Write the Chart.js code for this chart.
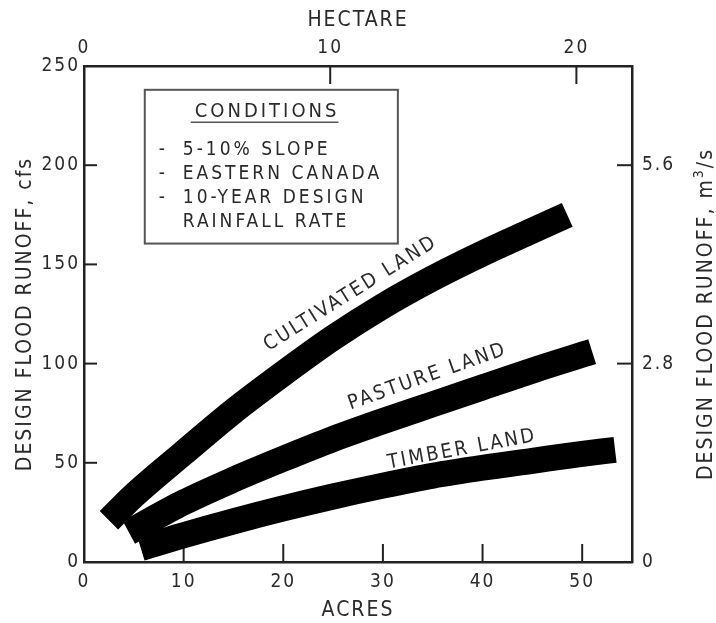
<!DOCTYPE html>
<html><head><meta charset="utf-8">
<script src="https://cdn.jsdelivr.net/npm/chart.js@4/dist/chart.umd.min.js"></script>
<style>html,body{margin:0;padding:0;background:#fff;}#wrap{width:716px;height:623px;}</style>
</head><body><div id="wrap"><canvas id="c" width="716" height="623"></canvas></div>
<script>
// ---- data ----
const acresTicks = [0, 10, 20, 30, 40, 50];
const hectareTicks = [0, 10, 20];
const cfsTicks = [0, 50, 100, 150, 200, 250];
const m3sTicks = [0, 2.8, 5.6];

const cultivatedAcres = [2.5, 5, 10, 15, 20, 25, 30, 35, 40, 45, 48.5];
const cultivatedCfs   = [21, 33.5, 55, 76, 95, 113, 129, 143, 155.5, 167, 175];
const pastureAcres = [4.5, 10, 15, 20, 25, 30, 35, 40, 45, 51];
const pastureCfs   = [15, 30, 41.5, 52, 62, 71, 79.5, 88, 96.5, 106];
const timberAcres = [5.7, 10, 15, 20, 25, 30, 35, 40, 45, 50, 53.3];
const timberCfs   = [7, 13.5, 20.5, 27, 33, 38.5, 43.5, 47.5, 51, 54.5, 56.5];

const seriesNames = ['CULTIVATED LAND', 'PASTURE LAND', 'TIMBER LAND'];
const conditionsTitle = 'CONDITIONS';
const conditionsLines = [['-', '5-10% SLOPE'], ['-', 'EASTERN CANADA'], ['-', '10-YEAR DESIGN'], ['', 'RAINFALL RATE']];

const ACRES_PER_HECTARE = 2.471;
const M3S_PER_CFS = 0.028;
const ACRES_MAX = 55;
const CFS_MAX = 250;

// ---- styling ----
const FAMILY = '"DejaVu Sans Condensed", "DejaVu Sans", sans-serif';
const TEXT = '#2a2a2a';
const AXIS = '#222';

const pts = (xs, ys) => xs.map((x, i) => ({x: x, y: ys[i]}));
const band = {
  borderColor: '#000', backgroundColor: '#000', borderWidth: 26,
  pointRadius: 0, pointHoverRadius: 0, fill: false,
  cubicInterpolationMode: 'monotone', borderCapStyle: 'butt', borderJoinStyle: 'round', clip: false
};

function setTicks(arr) { return s => { s.ticks = arr.map(v => ({value: v})); }; }

const spacingPlugin = {
  id: 'spacing',
  beforeLayout(chart) { chart.ctx.letterSpacing = '2px'; },
  beforeDraw(chart) { chart.ctx.letterSpacing = '2px'; }
};

const inwardTicks = {
  id: 'inwardTicks',
  beforeDatasetsDraw(chart) {
    const {ctx, chartArea: a, scales} = chart;
    const inner = s => s.ticks.filter(t => t.value > s.min + 1e-9 && t.value < s.max - 1e-9);
    ctx.save();
    ctx.strokeStyle = AXIS; ctx.lineWidth = 2;
    const line = (x1, y1, x2, y2) => { ctx.beginPath(); ctx.moveTo(x1, y1); ctx.lineTo(x2, y2); ctx.stroke(); };
    inner(scales.x).forEach(t => { const p = scales.x.getPixelForValue(t.value); line(p, a.bottom, p, a.bottom - 18); });
    inner(scales.x2).forEach(t => { const p = scales.x2.getPixelForValue(t.value); line(p, a.top, p, a.top + 18); });
    inner(scales.y).forEach(t => { const p = scales.y.getPixelForValue(t.value); line(a.left, p, a.left + 13, p); });
    inner(scales.y2).forEach(t => { const p = scales.y2.getPixelForValue(t.value); line(a.right, p, a.right - 15, p); });
    ctx.restore();
  }
};

function textCentered(ctx, str, cx, cy, deg, size, spacing) {
  ctx.save();
  ctx.translate(cx, cy);
  ctx.rotate(-deg * Math.PI / 180);
  ctx.font = size + 'px ' + FAMILY;
  ctx.letterSpacing = spacing + 'px';
  ctx.textAlign = 'left'; ctx.textBaseline = 'alphabetic';
  const w = ctx.measureText(str).width - spacing;
  ctx.fillText(str, -w / 2, 0.729 * size / 2);
  ctx.restore();
}

const annotations = {
  id: 'annotations',
  afterDraw(chart) {
    const {ctx, chartArea: a, scales} = chart;
    const X = v => scales.x.getPixelForValue(v), Y = v => scales.y.getPixelForValue(v);
    ctx.save();
    ctx.fillStyle = TEXT;
    // curve labels
    textCentered(ctx, seriesNames[0], X(26.55), Y(135.8), 32, 20, 2.5);
    textCentered(ctx, seriesNames[1], X(34.3), Y(94.2), 19.5, 20, 2.5);
    textCentered(ctx, seriesNames[2], X(37.8), Y(57.6), 10.5, 20, 2.5);

    // conditions box
    const bl = X(6.1), br = X(31.5), bt = Y(238), bb = Y(160.5);
    ctx.strokeStyle = '#555'; ctx.lineWidth = 2;
    ctx.strokeRect(bl, bt, br - bl, bb - bt);
    ctx.font = '20px ' + FAMILY; ctx.letterSpacing = '3px';
    ctx.textAlign = 'left'; ctx.textBaseline = 'alphabetic';
    const tx = bl + 50;
    ctx.fillText(conditionsTitle, tx, bt + 20 + 7.3);
    const tw = ctx.measureText(conditionsTitle).width;
    ctx.lineWidth = 1.6;
    ctx.beginPath(); ctx.moveTo(tx - 4, bt + 32.5); ctx.lineTo(tx + tw - 1, bt + 32.5); ctx.stroke();
    ctx.font = '19px ' + FAMILY; ctx.letterSpacing = '3px';
    conditionsLines.forEach((ln, i) => {
      const yb = bt + 58 + i * 24 + 6.9;
      if (ln[0]) ctx.fillText(ln[0], bl + 14, yb);
      ctx.fillText(ln[1], bl + 38, yb);
    });

    // right axis title (reads bottom to top) with superscript
    ctx.translate(a.right + 72, (a.top + a.bottom) / 2);
    ctx.rotate(-Math.PI / 2);
    ctx.letterSpacing = '2px';
    const big = '21px ' + FAMILY, small = '14px ' + FAMILY;
    const parts = [['DESIGN FLOOD RUNOFF, m', big, 0], ['3', small, -9], ['/s', big, 0]];
    let total = 0;
    parts.forEach(p => { ctx.font = p[1]; total += ctx.measureText(p[0]).width; });
    let x = -total / 2;
    parts.forEach(p => { ctx.font = p[1]; ctx.fillText(p[0], x, 7.6 + p[2]); x += ctx.measureText(p[0]).width; });
    ctx.restore();
  }
};

const tickFont = {family: FAMILY, size: 19};
const titleFont = {family: FAMILY, size: 21};

new Chart(document.getElementById('c'), {
  type: 'line',
  data: {
    datasets: [
      Object.assign({label: seriesNames[0], data: pts(cultivatedAcres, cultivatedCfs)}, band),
      Object.assign({label: seriesNames[1], data: pts(pastureAcres, pastureCfs)}, band),
      Object.assign({label: seriesNames[2], data: pts(timberAcres, timberCfs)}, band)
    ]
  },
  options: {
    responsive: false, animation: false, devicePixelRatio: 1,
    layout: {padding: 0},
    plugins: {legend: {display: false}, tooltip: {enabled: false}},
    scales: {
      x: {
        type: 'linear', position: 'bottom', min: 0, max: ACRES_MAX,
        afterBuildTicks: setTicks(acresTicks), afterFit: s => { s.height = 61; },
        grid: {display: false, drawTicks: false}, border: {display: true, color: AXIS, width: 2.5},
        ticks: {font: tickFont, color: TEXT, padding: 9, maxRotation: 0, autoSkip: false},
        title: {display: true, text: 'ACRES', font: titleFont, color: TEXT, padding: {top: 0, bottom: 0}}
      },
      x2: {
        type: 'linear', position: 'top', min: 0, max: ACRES_MAX / ACRES_PER_HECTARE,
        afterBuildTicks: setTicks(hectareTicks), afterFit: s => { s.height = 66; },
        grid: {display: false, drawTicks: false}, border: {display: true, color: AXIS, width: 2.5},
        ticks: {font: tickFont, color: TEXT, padding: 7, maxRotation: 0, autoSkip: false},
        title: {display: true, text: 'HECTARE', font: titleFont, color: TEXT, padding: {top: 8, bottom: 0}}
      },
      y: {
        type: 'linear', position: 'left', min: 0, max: CFS_MAX,
        afterBuildTicks: setTicks(cfsTicks), afterFit: s => { s.width = 84; },
        grid: {display: false, drawTicks: false}, border: {display: true, color: AXIS, width: 2.5},
        ticks: {font: tickFont, color: TEXT, padding: 4, autoSkip: false},
        title: {display: true, text: 'DESIGN FLOOD RUNOFF, cfs', font: titleFont, color: TEXT, padding: {top: 13, bottom: 0}}
      },
      y2: {
        type: 'linear', position: 'right', min: 0, max: CFS_MAX * M3S_PER_CFS,
        afterBuildTicks: setTicks(m3sTicks), afterFit: s => { s.width = 84; },
        grid: {display: false, drawTicks: false}, border: {display: true, color: AXIS, width: 2.5},
        ticks: {font: tickFont, color: TEXT, padding: 10, autoSkip: false,
                callback: v => (v === 0 ? '0' : v.toFixed(1))}
      }
    }
  },
  plugins: [spacingPlugin, inwardTicks, annotations]
});
</script>
</body></html>
